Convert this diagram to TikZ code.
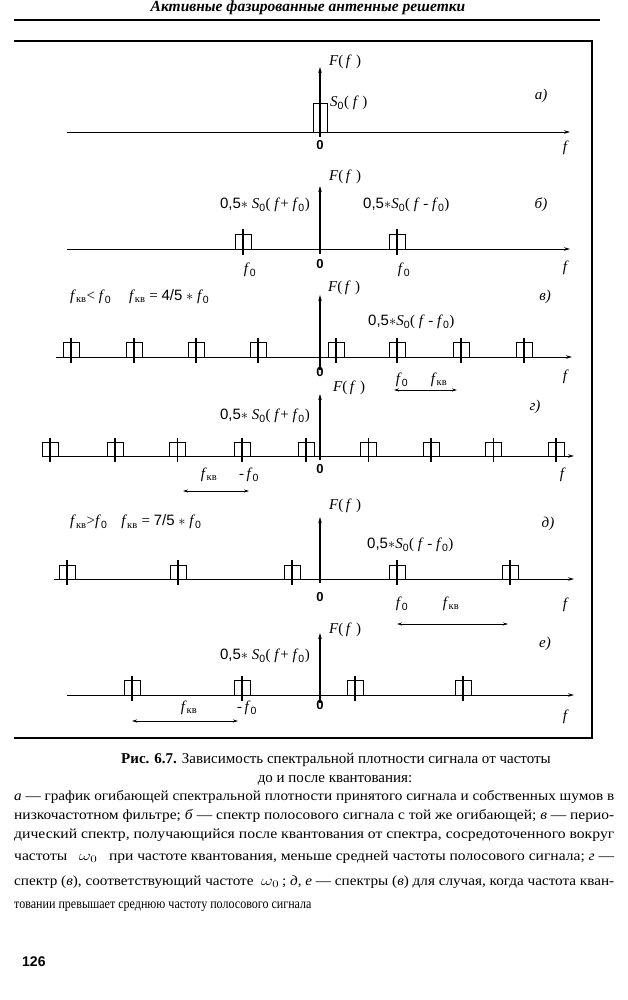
\documentclass[tikz,border=0pt]{standalone}
\usepackage{fontspec}
\usepackage{graphicx}
\setmainfont{Liberation Serif}
\newfontfamily\sansf{Liberation Sans}
\newfontfamily\capfont{Liberation Serif}[FakeStretch=0.86]
\usetikzlibrary{arrows.meta}
\newcommand\mylblF{\textit{F}(\,\textit{f}\;)}
\newcommand\myhalf{{\sansf 0,5}$\ast$}
\newcommand\myfo{\textit{f}\textsubscript{\sansf 0}}
\newcommand\myfkv{\textit{f}\textsubscript{кв}}
\newcommand\mySplus{\myhalf\ \textit{S}\textsubscript{\sansf 0}(\ \textit{f}+\ \myfo)}
\newcommand\mySminus{\myhalf\textit{S}\textsubscript{\sansf 0}(\ \textit{f}\ -\ \myfo)}
\newcommand\fitline[1]{\resizebox{600pt}{\height}{#1}}
\newcommand\specline[3]{%
  \draw[specbox] (#1-8,#2) |- (#1+8,#2-#3) -- (#1+8,#2);
  \draw[tickline] (#1,#2-#3-5) -- (#1,#2+6);}
\begin{document}
\begin{tikzpicture}[x=1pt,y=-1pt,
  haxis/.style={line width=0.9pt,-{Stealth[length=6pt,width=3.5pt]}},
  vaxis/.style={line width=1.2pt,-{Stealth[length=6pt,width=3.5pt]}},
  specbox/.style={line width=0.8pt},
  tickline/.style={line width=1.3pt},
  span/.style={line width=0.8pt,{Stealth[length=5pt,width=3pt]}-{Stealth[length=5pt,width=3pt]}},
  lbl/.style={font=\fontsize{15}{17}\selectfont,inner sep=0pt},
  plotlbl/.style={font=\fontsize{15}{17}\selectfont\itshape,inner sep=0pt},
  zero/.style={font=\fontsize{13}{15}\selectfont\sansf\bfseries,inner sep=0pt},
  captxt/.style={font=\fontsize{14}{16}\selectfont\capfont,inner sep=0pt,anchor=base west},
  frame/.style={line width=1.4pt}]
\useasboundingbox (0,0) rectangle (628,1000);
\fill[white] (0,0) rectangle (628,1000);
% header
\node[font=\fontsize{15.5}{17}\selectfont\bfseries\itshape,inner sep=0pt] (hdr) at (308,8) {Активные фазированные антенные решетки};
\coordinate (hrl) at (14,20); \coordinate (hrr) at (600,20);
\draw[line width=1.6pt] (hrl) -- (hrr);
% frame
\coordinate (fa) at (14,41); \coordinate (fb) at (592,41);
\coordinate (fc) at (592,738); \coordinate (fd) at (14,738);
\draw[frame] (fa) -- (fb) -- (fc) -- (fd);
% ---------------- a
\coordinate (a1) at (67,132); \coordinate (a2) at (570,132);
\coordinate (a3) at (320,137); \coordinate (a4) at (320,67);
\draw[haxis] (a1) -- (a2);
\draw[specbox] (313,132) |- (327,103) -- (327,132);
\draw[vaxis] (a3) -- (a4);
\node[lbl,anchor=west] (aF) at (329,62) {\mylblF};
\node[plotlbl] (aL) at (541,96) {а)};
\node[lbl,anchor=west] (aS) at (330,103) {\textit{S}\textsubscript{\sansf 0}(\ \textit{f}\ )};
\node[zero] (a0) at (320,145) {0};
\node[plotlbl] (af) at (565,148) {f};
% ---------------- b
\coordinate (b1) at (67,249); \coordinate (b2) at (570,249);
\coordinate (b3) at (320,254); \coordinate (b4) at (320,186);
\draw[haxis] (b1) -- (b2);
\specline{243}{249}{15}
\specline{397}{249}{15}
\draw[vaxis] (b3) -- (b4);
\node[lbl,anchor=west] (bF) at (329,177) {\mylblF};
\node[lbl,anchor=east] (bSp) at (310,205) {\mySplus};
\node[lbl,anchor=west] (bSm) at (363,205) {\mySminus};
\node[plotlbl] (bL) at (541,205) {б)};
\node[lbl] (bf0l) at (250,270) {\myfo};
\node[lbl] (bf0r) at (404,270) {\myfo};
\node[zero] (b0) at (320,264) {0};
\node[plotlbl] (bf) at (565,268) {f};
% ---------------- v
\coordinate (v1) at (56,357); \coordinate (v2) at (572,357);
\coordinate (v3) at (320,370); \coordinate (v4) at (320,295);
\draw[haxis] (v1) -- (v2);
\foreach \xx in {71,134,196,258,336,397,461,524} {\specline{\xx}{357}{14.5}}
\draw[vaxis] (v3) -- (v4);
\node[lbl,anchor=west] (vF) at (328,288) {\mylblF};
\node[lbl,anchor=west] (vcond) at (70,297) {\myfkv< \myfo\hspace{18pt}\myfkv{} = {\sansf 4/5} $\ast$ \myfo};
\node[plotlbl] (vL) at (545,297) {в)};
\node[lbl,anchor=west] (vSm) at (368,322) {\mySminus};
\node[zero] (v0) at (320,372) {0};
\node[lbl] (vf0) at (402,380) {\myfo};
\node[lbl] (vfkv) at (439,380) {\myfkv};
\coordinate (vs1) at (394,390); \coordinate (vs2) at (457,390);
\draw[span] (vs1) -- (vs2);
\node[plotlbl] (vf) at (565,377) {f};
% ---------------- g
\coordinate (g1) at (42,456); \coordinate (g2) at (574,456);
\coordinate (g3) at (320,460); \coordinate (g4) at (320,394);
\draw[haxis] (g1) -- (g2);
\foreach \xx in {50,115,177.5,242,306,368.6,431,493.6,556} {\specline{\xx}{456}{13.5}}
\draw[vaxis] (g3) -- (g4);
\node[lbl,anchor=west] (gF) at (333,388) {\mylblF};
\node[lbl,anchor=east] (gSp) at (310,416) {\mySplus};
\node[plotlbl] (gL) at (535,407) {г)};
\node[lbl] (gfkv) at (209,475) {\myfkv};
\node[lbl] (gf0) at (249,475) {-\,\myfo};
\node[zero] (g0) at (320,469) {0};
\node[plotlbl] (gf) at (562,475) {f};
\coordinate (gs1) at (183,491); \coordinate (gs2) at (249,491);
\draw[span] (gs1) -- (gs2);
% ---------------- d
\coordinate (d1) at (54,579); \coordinate (d2) at (574,579);
\coordinate (d3) at (320,583); \coordinate (d4) at (320,517);
\draw[haxis] (d1) -- (d2);
\foreach \xx in {67,178,292,397,510} {\specline{\xx}{579}{14}}
\draw[vaxis] (d3) -- (d4);
\node[lbl,anchor=west] (dF) at (329,506) {\mylblF};
\node[lbl,anchor=west] (dcond) at (70,522) {\myfkv>\myfo\hspace{14pt}\myfkv{} = {\sansf 7/5} $\ast$ \myfo};
\node[plotlbl] (dL) at (548,524) {д)};
\node[lbl,anchor=west] (dSm) at (367,545) {\mySminus};
\node[zero] (d0) at (320,597) {0};
\node[lbl] (df0) at (402,604) {\myfo};
\node[lbl] (dfkv) at (451,604) {\myfkv};
\node[plotlbl] (df) at (565,605) {f};
\coordinate (ds1) at (397,624); \coordinate (ds2) at (508,624);
\draw[span] (ds1) -- (ds2);
% ---------------- e
\coordinate (e1) at (67,695); \coordinate (e2) at (574,695);
\coordinate (e3) at (320,703); \coordinate (e4) at (320,633);
\draw[haxis] (e1) -- (e2);
\foreach \xx in {132,242,355,463} {\specline{\xx}{695}{14.5}}
\draw[vaxis] (e3) -- (e4);
\node[lbl,anchor=west] (eF) at (329,630) {\mylblF};
\node[lbl,anchor=east] (eSp) at (310,656) {\mySplus};
\node[plotlbl] (eL) at (545,644) {е)};
\node[lbl] (efkv) at (189,708) {\myfkv};
\node[lbl] (ef0) at (247,708) {-\,\myfo};
\node[zero] (e0) at (320,705) {0};
\node[plotlbl] (ef) at (565,717) {f};
\coordinate (es1) at (132,721); \coordinate (es2) at (238,721);
\draw[span] (es1) -- (es2);
% ---------------- caption
\node[font=\fontsize{15}{17}\selectfont,inner sep=0pt,anchor=base] (cap1) at (336,763) {\textbf{Рис. 6.7.} Зависимость спектральной плотности сигнала от частоты};
\node[font=\fontsize{15}{17}\selectfont,inner sep=0pt,anchor=base] (cap2) at (335,782) {до и после квантования:};
\node[captxt] (c3) at (14,800) {\fitline{\textit{а} — график огибающей спектральной плотности принятого сигнала и собственных шумов в}};
\node[captxt] (c4) at (14,819) {\fitline{низкочастотном фильтре; \textit{б} — спектр полосового сигнала с той же огибающей; \textit{в} — перио-}};
\node[captxt] (c5) at (14,838) {\fitline{дический спектр, получающийся после квантования от спектра, сосредоточенного вокруг}};
\node[captxt] (c6) at (14,860) {\fitline{частоты \ \ $\omega_0$ \ \ при частоте квантования, меньше средней частоты полосового сигнала; \textit{г} —}};
\node[captxt] (c7) at (14,885) {\fitline{спектр (\textit{в}), соответствующий частоте \ $\omega_0$\,; \textit{д}, \textit{е} — спектры (\textit{в}) для случая, когда частота кван-}};
\node[captxt] (c8) at (14,908) {товании превышает среднюю частоту полосового сигнала};
% page number
\node[font=\fontsize{14}{16}\selectfont\sansf\bfseries,inner sep=0pt,anchor=west] (pg) at (22,962) {126};
\end{tikzpicture}
\end{document}
